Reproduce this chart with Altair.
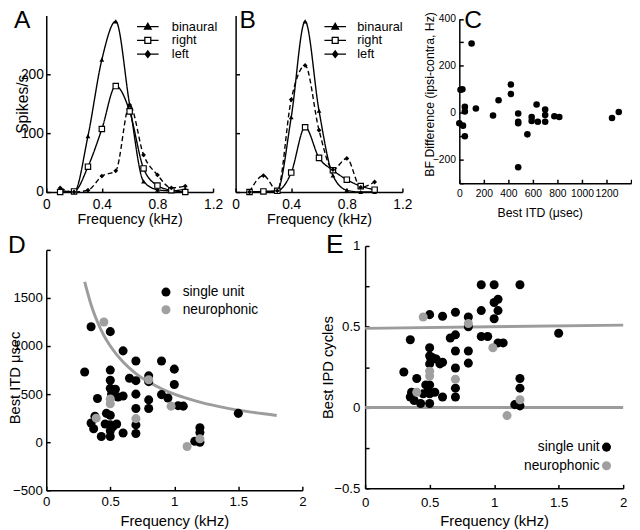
import altair as alt
import pandas as pd

FONT = "Liberation Sans"
GREY = "#a0a0a0"
LINEGREY = "#9c9c9c"

panel_letters = ["A", "B", "C", "D", "E"]

# ---------- Panels A / B : tuning curves ----------
series_names = ["binaural", "right", "left"]
freq_ab = [0.1, 0.2, 0.3, 0.4, 0.5, 0.6, 0.7, 0.8, 0.9, 1.0]
a_binaural = [3, 0, 95, 225, 290, 148, 18, 4, 2, 5]
a_right = [0, 1, 43, 107, 180, 137, 40, 11, 3, 0]
a_left = [7, 0, 3, 27, 36, 148, 63, 29, 7, 10]
b_binaural = [0, 0, 3, 127, 290, 138, 28, 3, 0, 0]
b_right = [0, 1, 2, 33, 110, 58, 37, 21, 10, 4]
b_left = [0, 28, 2, 157, 215, 105, 38, 57, 8, 17]

# ---------- Panel C ----------
c_itd = [100, 10, 25, 0, 30, 45, 45, 45, 135, 275, 320, 420, 420, 480, 480, 480,
         480, 555, 590, 590, 630, 640, 700, 700, 700, 775, 815, 1245, 1300]
c_bf = [295, 98, 100, -45, -55, -100, 25, 5, 18, -12, 53, 120, 80, -3, -38, -45,
        -232, -92, -18, -35, 35, -38, 14, -10, -38, -15, -18, -22, 3]

# ---------- Panel D ----------
groups = ["single unit", "neurophonic"]
d_su_f = [0.30, 0.35, 0.50, 0.60, 0.70, 0.90, 1.00, 0.50, 0.50, 0.65, 0.70, 0.80,
          0.80, 1.00, 0.40, 0.50, 0.54, 0.51, 0.56, 0.60, 0.70, 0.90, 0.95, 0.80,
          0.80, 0.70, 1.03, 1.07, 1.50, 0.47, 0.50, 0.35, 0.37, 0.38, 0.46, 0.50,
          0.55, 0.50, 0.43, 0.50, 0.60, 0.70, 0.70, 1.20, 1.20, 1.16, 1.20, 0.52]
d_su_itd = [730, 1200, 1150, 950, 845, 845, 760, 750, 645, 665, 640, 690,
            630, 600, 455, 560, 550, 500, 470, 480, 500, 495, 460, 440,
            350, 350, 380, 375, 300, 300, 280, 200, 140, 270, 190, 180,
            190, 120, 60, 60, 95, 180, 90, 150, 100, 10, 0, 160]
d_nph_f = [0.45, 0.50, 0.50, 0.39, 0.70, 0.80, 0.975, 1.10, 1.20]
d_nph_itd = [1250, 450, 400, 250, 245, 650, 375, -45, 35]
curve_f = [0.3, 0.35, 0.4, 0.45, 0.5, 0.6, 0.7, 0.8, 0.9, 1.0, 1.2, 1.4, 1.6, 1.8]
curve_itd = [1667, 1430, 1250, 1110, 1000, 833, 714, 625, 556, 500, 417, 357, 313, 278]

# ---------- Panel E ----------
e_su_f = [0.90, 1.00, 1.20, 1.03, 1.00, 1.03, 1.00, 0.90, 0.50, 0.60, 0.70, 0.80,
          0.80, 0.90, 0.95, 0.70, 0.66, 0.35, 1.03, 1.07, 0.50, 0.70, 0.80, 0.50,
          0.51, 0.55, 0.60, 0.58, 0.50, 0.80, 0.70, 0.30, 0.40, 1.20, 1.20, 0.70,
          0.47, 0.50, 0.49, 0.45, 0.50, 0.54, 0.60, 0.70, 0.36, 0.35, 0.38, 0.43,
          0.50, 1.16, 1.20, 1.50, 0.52]
e_su_ipd = [0.76, 0.76, 0.76, 0.67, 0.65, 0.60, 0.55, 0.60, 0.575, 0.565, 0.59, 0.56,
            0.50, 0.44, 0.44, 0.45, 0.43, 0.42, 0.40, 0.40, 0.37, 0.35, 0.35, 0.32,
            0.30, 0.30, 0.28, 0.27, 0.27, 0.275, 0.245, 0.22, 0.18, 0.18, 0.12, 0.12,
            0.14, 0.14, 0.105, 0.085, 0.085, 0.095, 0.065, 0.065, 0.095, 0.065, 0.044, 0.025,
            0.025, 0.018, 0.01, 0.46, 0.31]
e_nph_f = [0.45, 0.80, 0.99, 0.50, 0.50, 0.70, 0.40, 1.20, 1.10]
e_nph_ipd = [0.56, 0.52, 0.37, 0.225, 0.195, 0.175, 0.095, 0.048, -0.05]
ref_line_f = [0, 2]
half_line_ipd = [0.49, 0.51]
zero_line_ipd = [0.0, 0.0]

# ---------- helpers ----------
TICK = {"expr": "-4"}   # inward ticks


def axis(title, values, fmt=None, labels=True, label_expr=None, lfs=14, tfs=15,
         label_pad=8, **kw):
    args = dict(values=values, labels=labels, labelFont=FONT, labelFontSize=lfs,
                titleFont=FONT, titleFontSize=tfs, titleFontWeight="normal",
                labelPadding=label_pad, tickSize=TICK,
                grid=False, domainColor="black", tickColor="black", labelColor="black",
                titleColor="black", domainWidth=1.5, tickWidth=1.5, labelFlush=False)
    args["title"] = title
    if fmt:
        args["format"] = fmt
    if label_expr:
        args["labelExpr"] = label_expr
    args.update(kw)
    return alt.Axis(**args)


def letter_layer(letter, x, y, size=25):
    return alt.Chart(pd.DataFrame({"t": [letter]})).mark_text(
        font=FONT, fontSize=size, align="left", baseline="top", color="black"
    ).encode(text="t:N", x=alt.value(x), y=alt.value(y))


def spacer(x, y, align="left", baseline="top"):
    # invisible layout anchor that pins the panel's outer bounds
    return alt.Chart(pd.DataFrame({"t": ["."]})).mark_text(
        fontSize=1, opacity=0, align=align, baseline=baseline
    ).encode(text="t:N", x=alt.value(x), y=alt.value(y))


P_BIN = "M-2,0H2M0,-0.62L0.62,0.45H-0.62Z"
P_RIGHT = "M-2,0H-0.55M0.55,0H2M-0.55,-0.55H0.55V0.55H-0.55Z"
P_LEFT = "M-2,0H2M0,-0.62L0.48,0L0,0.62L-0.48,0Z"


def tuning_panel(b, r, l, letter, show_y, lx, ly, lo, letter_x, spacers):
    rows = []
    for name, vals in zip(series_names, [b, r, l]):
        for f, v in zip(freq_ab, vals):
            rows.append({"freq": f, "rate": v, "series": name})
    df = pd.DataFrame(rows)
    x = alt.X("freq:Q", scale=alt.Scale(domain=[0, 1.2], nice=False),
              axis=axis("Frequency (kHz)", [0, 0.4, 0.8, 1.2], fmt="~g",
                        lfs=14, tfs=14.5, label_pad=9.5, titleY=21))
    y = alt.Y("rate:Q", scale=alt.Scale(domain=[0, 300], nice=False),
              axis=axis("Spikes/s" if show_y else None, [0, 50, 100, 150, 200, 250],
                        labels=show_y, lfs=14, tfs=16, label_pad=7, titleX=-16))

    def line(name, dash):
        return alt.Chart(df).transform_filter(alt.datum.series == name).mark_line(
            interpolate="monotone", color="black", strokeWidth=1.4, strokeDash=dash)

    l_bin = line("binaural", [1, 0]).encode(x=x, y=y)
    l_right = line("right", [1, 0]).encode(x="freq:Q", y="rate:Q")
    l_left = line("left", [5, 3]).encode(x="freq:Q", y="rate:Q")
    p_bin = alt.Chart(df).transform_filter(alt.datum.series == "binaural").mark_point(
        shape="triangle-up", filled=True, color="black", size=24, opacity=1
    ).encode(x="freq:Q", y="rate:Q")
    p_right = alt.Chart(df).transform_filter(alt.datum.series == "right").mark_point(
        shape="square", filled=True, fill="white", stroke="black", strokeWidth=1.2,
        size=30, opacity=1
    ).encode(x="freq:Q", y="rate:Q")
    p_left = alt.Chart(df).transform_filter(alt.datum.series == "left").mark_point(
        shape="diamond", filled=True, color="black", size=24, opacity=1
    ).encode(x="freq:Q", y="rate:Q")
    leg = alt.Legend(title=None, orient="none", legendX=lx, legendY=ly, labelFont=FONT,
                     labelFontSize=13, labelColor="black", labelOffset=lo, symbolSize=121,
                     rowPadding=-3.5, padding=0, symbolStrokeWidth=1.3, symbolOpacity=1)
    legend_layer = alt.Chart(df).transform_filter("false").mark_point(
        filled=False, opacity=1, strokeWidth=1.3
    ).encode(
        shape=alt.Shape("series:N", scale=alt.Scale(domain=series_names,
                        range=[P_BIN, P_RIGHT, P_LEFT]), legend=leg),
        fill=alt.Fill("series:N", scale=alt.Scale(domain=series_names,
                      range=["black", "white", "black"]), legend=leg),
        stroke=alt.Stroke("series:N", scale=alt.Scale(domain=series_names,
                          range=["black", "black", "black"]), legend=leg))
    return alt.layer(l_bin, l_right, l_left, p_bin, p_right, p_left, legend_layer,
                     letter_layer(letter, letter_x, -7.5), *spacers
                     ).properties(width=170, height=180)


panel_a = tuning_panel(a_binaural, a_right, a_left, "A", True, 97, 5, 18, -33,
                       [spacer(-50, -30), spacer(182, 0, align="right"),
                        spacer(0, 219.5, baseline="bottom")])
panel_b = tuning_panel(b_binaural, b_right, b_left, "B", False, 95, 5, 16, 4,
                       [spacer(-8, 0), spacer(184, 0, align="right")])

# Panel C  (plot area starts 3.5 px below the row's top edge)
df_c = pd.DataFrame({"itd": c_itd, "bf": c_bf})
panel_c = alt.layer(
    alt.Chart(df_c).mark_circle(color="black", size=45, opacity=1).encode(
        x=alt.X("itd:Q", scale=alt.Scale(domain=[0, 1400], nice=False),
                axis=axis("Best ITD (μsec)", list(range(0, 1401, 200)), fmt="d",
                          label_expr="datum.value <= 1200 ? datum.label : ''",
                          lfs=10.5, tfs=12.5, label_pad=9.5, titleY=23.5, titleX=82)),
        y=alt.Y("bf:Q", scale=alt.Scale(domain=[-300, 400], nice=False, range=[171, 3.5]),
                axis=axis("BF Difference (ipsi-contra, Hz)", list(range(-300, 401, 100)),
                          fmt="d", label_expr="datum.value % 200 == 0 ? datum.label : ''",
                          lfs=10.5, tfs=12.5, label_pad=8, titleX=-23.5, titleY=80))),
    letter_layer("C", 5, -7.5),
    spacer(-42, 0),
).properties(width=175, height=171)

# Panel D  (plot area starts 4 px below the row's top edge)
df_d = pd.DataFrame({
    "f": d_su_f + d_nph_f,
    "itd": d_su_itd + d_nph_itd,
    "group": ["single unit"] * len(d_su_f) + ["neurophonic"] * len(d_nph_f),
})
df_curve = pd.DataFrame({"f": curve_f, "itd": curve_itd})
xd = alt.X("f:Q", scale=alt.Scale(domain=[0, 2], nice=False),
           axis=axis("Frequency (kHz)", [0, 0.5, 1, 1.5, 2], fmt="~g", lfs=13.5, tfs=15,
                     label_pad=8.7, titleY=23.5))
panel_d = alt.layer(
    alt.Chart(df_curve).mark_line(interpolate="monotone", color=LINEGREY, strokeWidth=3).encode(
        x=xd,
        y=alt.Y("itd:Q", scale=alt.Scale(domain=[-500, 2000], nice=False, range=[249, 4]),
                axis=axis("Best ITD μsec", [-500, 0, 500, 1000, 1500, 2000], fmt="d",
                          label_expr="datum.value < 2000 ? datum.label : ''",
                          lfs=13.5, tfs=15, label_pad=8, titleX=-24.5, titleY=134))),
    alt.Chart(df_d).mark_circle(size=85, opacity=1).encode(
        x="f:Q", y="itd:Q",
        color=alt.Color("group:N", scale=alt.Scale(domain=groups, range=["black", GREY]),
                        legend=alt.Legend(
            title=None, orient="none", legendX=115, legendY=40, labelFont=FONT,
            labelFontSize=14, labelColor="black", labelOffset=10, symbolSize=85,
            rowPadding=4, padding=0, symbolOpacity=1, symbolType="circle"))),
    letter_layer("D", -39, -13),
    spacer(-56, 100),
    spacer(267, 100, align="right"),
).properties(width=261, height=249)

# Panel E
df_e = pd.DataFrame({
    "f": e_su_f + e_nph_f,
    "ipd": e_su_ipd + e_nph_ipd,
    "group": ["single unit"] * len(e_su_f) + ["neurophonic"] * len(e_nph_f),
})
df_lines = pd.DataFrame({
    "f": ref_line_f + ref_line_f,
    "ipd": half_line_ipd + zero_line_ipd,
    "line": ["half"] * 2 + ["zero"] * 2,
})
panel_e = alt.layer(
    alt.Chart(df_lines).mark_line(color=LINEGREY, strokeWidth=3).encode(
        x=alt.X("f:Q", scale=alt.Scale(domain=[0, 2], nice=False),
                axis=axis("Frequency (kHz)", [0, 0.5, 1, 1.5, 2], fmt="~g", lfs=13.5,
                          tfs=15, label_pad=11.2, titleY=26)),
        y=alt.Y("ipd:Q", scale=alt.Scale(domain=[-0.5, 1], nice=False),
                axis=axis("Best IPD cycles", [-0.5, -0.25, 0, 0.25, 0.5, 0.75, 1], fmt="~g",
                          label_expr="(datum.value * 4) % 2 == 0 ? datum.label : ''",
                          lfs=13.5, tfs=15, label_pad=9.3, titleX=-30)),
        detail="line:N"),
    alt.Chart(df_e).mark_circle(size=85, opacity=1).encode(
        x="f:Q", y="ipd:Q",
        color=alt.Color("group:N", scale=alt.Scale(domain=groups, range=["black", GREY]),
                        legend=alt.Legend(
            title=None, orient="none", legendX=239, legendY=198, labelFont=FONT,
            labelFontSize=14, labelColor="black", labelOffset={"expr": "-14"},
            labelAlign="right", symbolSize=85, rowPadding=5, padding=0, symbolOpacity=1,
            symbolType="circle"))),
    letter_layer("E", -40, -13.5, size=27),
    spacer(-52, -14),
).properties(width=263, height=247)

IND = dict(color="independent", shape="independent", fill="independent",
           stroke="independent")

ab = alt.hconcat(panel_a, panel_b, spacing=3).resolve_scale(**IND).resolve_legend(**IND)
top = alt.hconcat(ab, panel_c, spacing=2).resolve_scale(**IND).resolve_legend(**IND)
bottom = alt.hconcat(panel_d, panel_e, spacing=6).resolve_scale(**IND).resolve_legend(**IND)
chart = alt.vconcat(top, bottom, spacing=0).resolve_scale(**IND).resolve_legend(**IND).properties(
    padding={"left": -17, "top": -27.5, "right": 0, "bottom": 0}
).configure_view(stroke=None)

chart.save("out.html", embed_options={"renderer": "svg", "actions": False})
